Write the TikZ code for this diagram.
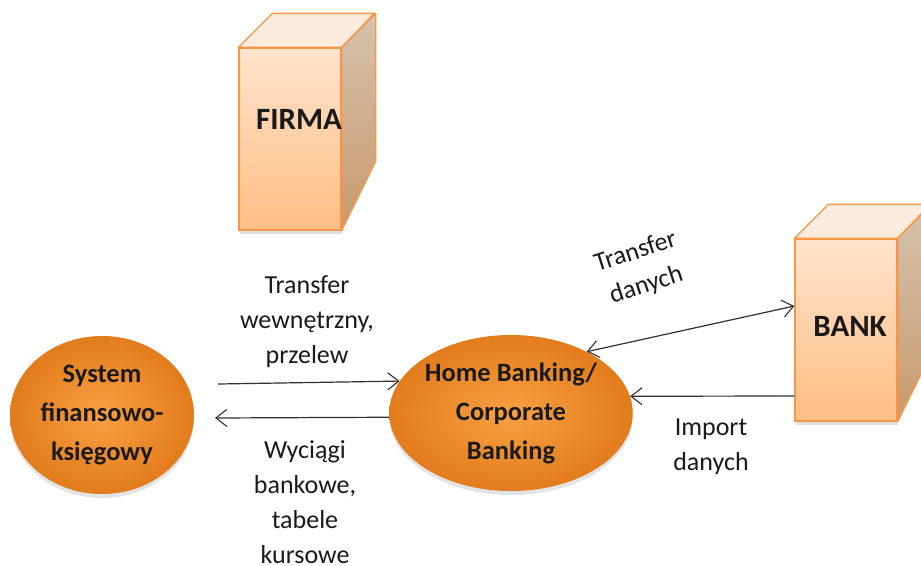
\documentclass[tikz,border=0pt]{standalone}
\usepackage{fontspec}
\setmainfont{Carlito}
\usetikzlibrary{shapes.geometric,arrows.meta,shadows}

\definecolor{boxline}{HTML}{F79646}
\definecolor{facetop}{HTML}{FFE3CC}
\definecolor{facebot}{HTML}{FFBE85}
\definecolor{lidcol}{HTML}{FDEBDD}
\definecolor{sidetop}{HTML}{D6C2AE}
\definecolor{sidebot}{HTML}{C8996C}
\definecolor{ovalin}{HTML}{F9A043}
\definecolor{ovalout}{HTML}{E27C1C}
\definecolor{ink}{HTML}{1A1A1A}
\definecolor{wire}{HTML}{303030}

\begin{document}
\begin{tikzpicture}[x=1pt,y=-1pt,
  boxfront/.style={rectangle, draw=boxline, line width=1.3pt,
    top color=facetop, bottom color=facebot,
    minimum width=102pt, minimum height=182pt, inner sep=0pt,
    drop shadow={shadow xshift=1pt, shadow yshift=-4pt, opacity=0.25}},
  boxlid/.style={draw=boxline, line width=1.3pt, fill=lidcol, line join=round},
  boxside/.style={draw=boxline, line width=1.3pt, top color=sidetop, bottom color=sidebot, line join=round},
  boxtext/.style={font=\bfseries\fontsize{31}{36}\selectfont, text=ink},
  oval/.style={ellipse, shading=radial, inner color=ovalin, outer color=ovalout,
    draw=none, inner sep=0pt, align=center, text=ink,
    font=\bfseries\fontsize{26.5}{39}\selectfont,
    drop shadow={shadow xshift=0pt, shadow yshift=-4pt, opacity=0.22}},
  flowtext/.style={align=center, text=ink, font=\fontsize{26}{35}\selectfont},
  flow/.style={draw=wire, line width=1.2pt,
    -{Straight Barb[length=11pt,width=17pt,line width=1.1pt]}},
  flowboth/.style={draw=wire, line width=1.2pt,
    {Straight Barb[length=11pt,width=17pt,line width=1.1pt]}-{Straight Barb[length=11pt,width=17pt,line width=1.1pt]}}
]
\useasboundingbox[fill=white] (0,0) rectangle (921,565);

% company block
\node[boxfront] (firma) at (290,139) {};
\draw[boxlid] (firma.north west) -- ++(34,-34) -- ++(102,0) -- (firma.north east) -- cycle;
\draw[boxside] (firma.north east) -- ++(34,-34) -- ++(0,148) -- (firma.south east) -- cycle;
\node[boxtext] (firmatext) at (299,119) {FIRMA};

% bank block
\node[boxfront] (bank) at (846,330) {};
\draw[boxlid] (bank.north west) -- ++(34,-34) -- ++(102,0) -- (bank.north east) -- cycle;
\draw[boxside] (bank.north east) -- ++(34,-34) -- ++(0,148) -- (bank.south east) -- cycle;
\node[boxtext] (banktext) at (850,326) {BANK};

% systems
\node[oval, minimum width=184pt, minimum height=158pt] (fk) at (102,415)
  {System\\finansowo-\\księgowy};
\node[oval, minimum width=226pt, minimum height=156pt] (hb) at (511,413)
  {Home Banking/\\Corporate\\Banking};

% free ends of the internal flows
\coordinate (outstart) at (218,384);
\coordinate (inend) at (215,418);

\draw[flow] (outstart) -- (hb.164.5);
\draw[flow] (hb.182.5) -- (inend);
\draw[flowboth] (hb.39.8) -- ([yshift=24pt]bank.west);
\draw[flow] ([yshift=-66pt]bank.west) -- (hb.8.8);

% flow labels
\node[flowtext] (lblout) at (307,322) {Transfer\\wewnętrzny,\\przelew};
\node[flowtext] (lblin) at (305,502) {Wyciągi\\bankowe,\\tabele\\kursowe};
\node[flowtext] (lblimp) at (711,447) {Import\\danych};
\node[flowtext, rotate=18] (lbltr) at (641,269) {Transfer\\danych};
\end{tikzpicture}
\end{document}
